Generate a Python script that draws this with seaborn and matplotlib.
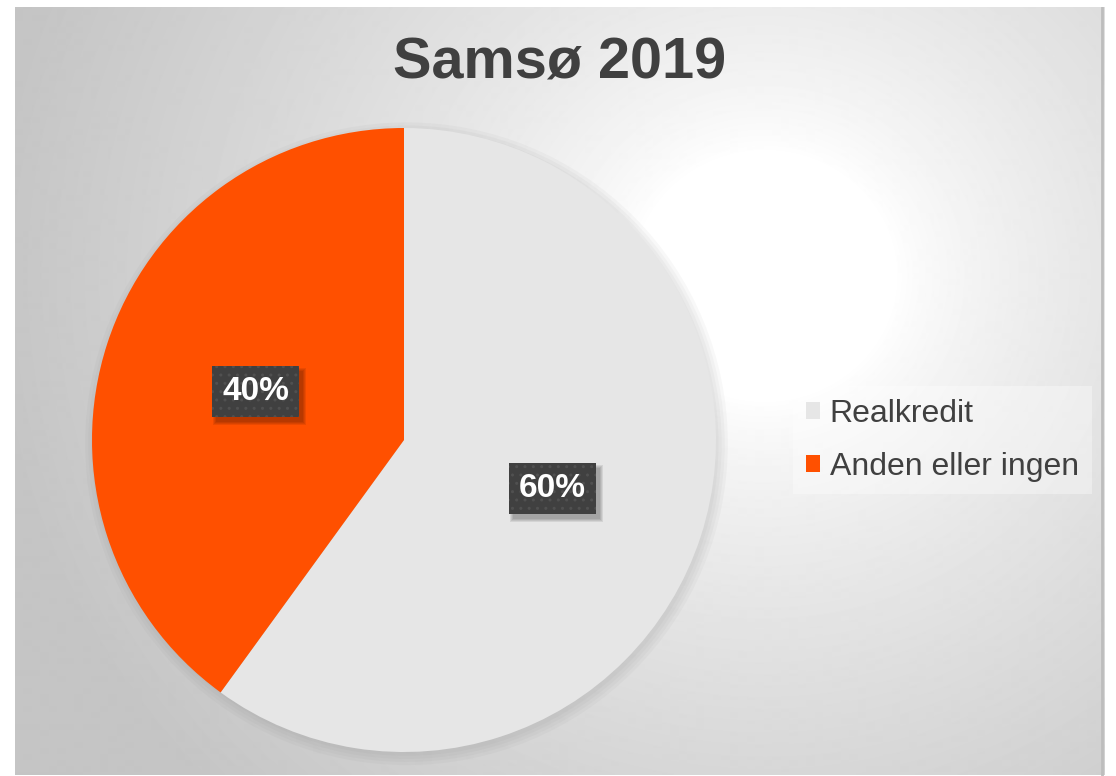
import numpy as np
import matplotlib
matplotlib.use("Agg")
import matplotlib.pyplot as plt
from matplotlib.patches import Rectangle
import seaborn as sns

# data
labels = ["Realkredit", "Anden eller ingen"]
shares = [60, 40]
colors = ["#e6e6e6", "#ff5000"]
title = "Samsø 2019"

sns.set_theme(style="white")
plt.rcParams["font.family"] = ["Liberation Sans", "DejaVu Sans"]

W, H = 1116, 776
fig = plt.figure(figsize=(W / 100, H / 100), dpi=100, facecolor="white")

# background panel with radial gradient
bg = fig.add_axes([15 / W, 0, 1090 / W, 769 / H])
bg.set_axis_off()
yy, xx = np.mgrid[0:769, 0:1090]
d = np.hypot(xx - 750, (yy - 270) * 1.05)
v = 255 - 58 * np.clip((d - 130) / 640, 0, 1) ** 0.75
bg.imshow(v, cmap="gray", vmin=0, vmax=255, aspect="auto", interpolation="bilinear")
bg.plot([1087, 1087], [0, 769], color="#bdbdbd", lw=2)
bg.set_xlim(0, 1090)
bg.set_ylim(769, 0)

# pie
cx, cy, r = 404, 440, 312
ax = fig.add_axes([(cx - r) / W, (H - cy - r) / H, 2 * r / W, 2 * r / H])

wedges, _ = ax.pie(shares, colors=colors, startangle=90, counterclock=False,
                   radius=1, wedgeprops=dict(linewidth=0))
ax.set_axis_off()
ax.set_xlim(-1, 1)
ax.set_ylim(-1, 1)
for w in wedges:
    w.set_zorder(2)

# soft shadow
for i in range(4):
    ax.add_patch(plt.Circle((0.008, -0.012), 1.0 + 0.01 * (3 - i), color="#7a7a7a",
                            alpha=0.05, lw=0, zorder=0, clip_on=False))

pct_texts = []
for w, s in zip(wedges, shares):
    ang = np.deg2rad((w.theta1 + w.theta2) / 2)
    x, y = 0.5 * np.cos(ang), 0.5 * np.sin(ang)
    t = ax.text(x, y, f"{s}%", ha="center", va="center", fontsize=24,
                fontweight="bold", color="white", zorder=5,
                bbox=dict(boxstyle="square,pad=0.3", fc="#404040", ec="#505050",
                          lw=0, hatch=".."))
    pct_texts.append(t)

fig.text(560 / W, 1 - 63 / H, title, ha="center", va="center", fontsize=41.5,
         fontweight="bold", color="#404040")

leg = fig.legend(wedges, labels, loc="center left",
                 bbox_to_anchor=(793 / W, 1 - 440 / H), fontsize=23,
                 frameon=True, fancybox=False, handlelength=0.45, handleheight=0.45,
                 handletextpad=0.3, labelspacing=0.72, borderpad=0.4,
                 borderaxespad=0)
leg.get_frame().set_facecolor("#ffffff")
leg.get_frame().set_alpha(0.35)
leg.get_frame().set_linewidth(0)
for t in leg.get_texts():
    t.set_color("#404040")

# blurred drop shadow behind the label boxes
fig.canvas.draw()
for t in pct_texts:
    bb = t.get_bbox_patch().get_window_extent()
    for k in range(4):
        g = 3 - k
        ax.add_artist(Rectangle((bb.x0 + 4 - g, bb.y0 - 5 - g), bb.width + 2 * g,
                                bb.height + 2 * g, transform=None, fc="black",
                                alpha=0.08, lw=0, zorder=4))

fig.savefig("out.png", dpi=100, facecolor="white")
